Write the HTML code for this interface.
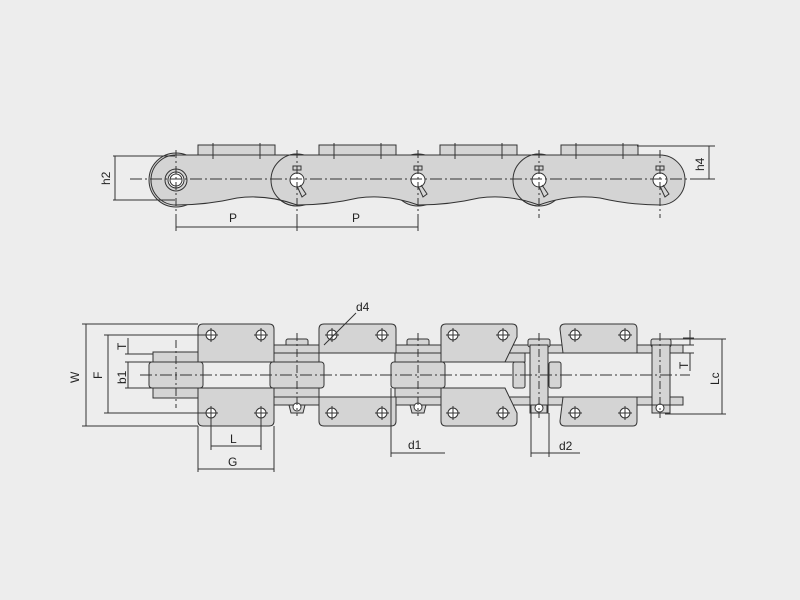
<!DOCTYPE html>
<html><head><meta charset="utf-8"><style>
html,body{margin:0;padding:0;background:#ededed;}
svg{display:block}
text{font-family:"Liberation Sans",sans-serif;font-size:12px;fill:#222}
</style></head><body>
<svg width="800" height="600" viewBox="0 0 800 600" xmlns="http://www.w3.org/2000/svg">
<rect width="800" height="600" fill="#ededed"/>
<g stroke="#333" stroke-width="1" fill="#d4d4d4">
<!-- TOP VIEW -->
<!-- rollers behind -->
<circle cx="297" cy="180" r="26"/><circle cx="418" cy="180" r="26"/><circle cx="539" cy="180" r="26"/>
<circle cx="176" cy="180" r="27"/>
<!-- attachments -->
<rect x="198" y="145" width="77" height="12"/><rect x="319" y="145" width="77" height="12"/>
<rect x="440" y="145" width="77" height="12"/><rect x="561" y="145" width="77" height="12"/>
<!-- plate -->
<path d="M176,155 L660,155 A25,25 0 0 1 660,205 Q630,205 600,198 Q570,194 539,205 Q509,194 479,198 Q449,205 418,205 Q388,194 358,198 Q328,205 297,205 Q267,194 237,198 Q207,205 176,205 A25,25 0 0 1 176,155 Z"/>
<path d="M297,154 A26,26 0 0 0 297,206 M539,154 A26,26 0 0 0 539,206" fill="none"/>
<circle cx="176" cy="180" r="11" fill="#d4d4d4"/><circle cx="176" cy="180" r="8" fill="#fff"/><circle cx="176" cy="180" r="6" fill="none"/>
<g fill="#fff">
<circle cx="297" cy="180" r="7"/><circle cx="418" cy="180" r="7"/><circle cx="539" cy="180" r="7"/><circle cx="660" cy="180" r="7"/>
</g>
<g fill="none">
<path d="M293,170 h8 v-4 h-8z M414,170 h8 v-4 h-8z M535,170 h8 v-4 h-8z M656,170 h8 v-4 h-8z"/>
<path d="M297,186 l5,11 l4,-3 l-6,-9 M418,186 l5,11 l4,-3 l-6,-9 M539,186 l5,11 l4,-3 l-6,-9 M660,186 l5,11 l4,-3 l-6,-9"/>
</g>
</g>
<g stroke="#333" stroke-width="1" fill="none">
<path d="M213,143v16 M260,143v16 M334,143v16 M381,143v16 M455,143v16 M502,143v16 M576,143v16 M623,143v16"/>
<path d="M130,179 H692" stroke-dasharray="12,3,2,3"/>
<path d="M176,150V230 M297,150V230 M418,150V230 M539,150V218 M660,150V218" stroke-dasharray="8,3,2,3"/>
<path d="M113,156H175 M113,200H175 M115,156V200"/>
<path d="M176,222 V231 M297,222V231 M418,222V231 M176,227H418"/>
<path d="M637,146H715 M690,179H715 M709,146V179"/>
</g>
<text x="229" y="222">P</text><text x="352" y="222">P</text>
<text transform="translate(110,185) rotate(-90)">h2</text>
<text transform="translate(704,171) rotate(-90)">h4</text>

<!-- BOTTOM VIEW -->
<g stroke="#333" stroke-width="1" fill="#d4d4d4">
<!-- roller link plates at 176 -->
<rect x="153" y="352" width="45" height="10"/><rect x="153" y="388" width="45" height="10"/>
<rect x="149" y="362" width="54" height="26" rx="3"/>
<!-- pin 297 -->
<rect x="286" y="339" width="22" height="8" rx="2"/>
<rect x="274" y="345" width="45" height="8"/><rect x="274" y="353" width="45" height="9"/>
<rect x="274" y="388" width="45" height="9"/><rect x="274" y="397" width="45" height="8"/>
<rect x="270" y="362" width="54" height="26" rx="3"/>
<path d="M289,405 h16 l-2,8 h-12z"/>
<!-- pin 418 -->
<rect x="407" y="339" width="22" height="8" rx="2"/>
<rect x="395" y="345" width="46" height="8"/><rect x="395" y="353" width="46" height="9"/>
<rect x="395" y="388" width="46" height="9"/><rect x="395" y="397" width="46" height="8"/>
<rect x="391" y="362" width="54" height="26" rx="3"/>
<path d="M410,405 h16 l-2,8 h-12z"/>
<!-- outer link plates -->
<rect x="319" y="345" width="77" height="8"/><rect x="319" y="397" width="77" height="8"/>
<!-- wings -->
<path d="M198,362 V329 q0,-5 5,-5 h66 q5,0 5,5 V362z"/>
<path d="M198,388 V421 q0,5 5,5 h66 q5,0 5,-5 V388z"/>
<path d="M319,353 V329 q0,-5 5,-5 h67 q5,0 5,5 V353z"/>
<path d="M319,397 V421 q0,5 5,5 h67 q5,0 5,-5 V397z"/>
<!-- right part -->
<rect x="505" y="345" width="58" height="8"/><rect x="505" y="397" width="58" height="8"/>
<rect x="505" y="353" width="20" height="9"/>
<rect x="513" y="362" width="12" height="26" rx="2"/><rect x="549" y="362" width="12" height="26" rx="2"/>
<path d="M441,362 V329 q0,-5 5,-5 h66 q5,0 5,5 v8 l-12,25z"/>
<path d="M441,388 V421 q0,5 5,5 h66 q5,0 5,-5 v-8 l-12,-25z"/>
<rect x="528" y="339" width="22" height="8" rx="2"/>
<rect x="530" y="345" width="18" height="68"/>
<path d="M531,405 h16 v8 h-16z"/>
<path d="M563,353 l-3,-24 q0,-5 5,-5 h68 q4,0 4,5 V353z"/>
<path d="M563,397 l-3,24 q0,5 5,5 h68 q4,0 4,-5 V397z"/>
<rect x="637" y="345" width="46" height="8"/><rect x="637" y="397" width="46" height="8"/>
<rect x="651" y="339" width="20" height="8" rx="2"/>
<rect x="652" y="345" width="18" height="60"/>
<path d="M652,405 h18 v8 h-18z"/>
</g>
<g stroke="#333" stroke-width="1" fill="#fff">
<circle cx="211" cy="335" r="5"/><circle cx="261" cy="335" r="5"/><circle cx="211" cy="413" r="5"/><circle cx="261" cy="413" r="5"/>
<circle cx="332" cy="335" r="5"/><circle cx="382" cy="335" r="5"/><circle cx="332" cy="413" r="5"/><circle cx="382" cy="413" r="5"/>
<circle cx="453" cy="335" r="5"/><circle cx="503" cy="335" r="5"/><circle cx="453" cy="413" r="5"/><circle cx="503" cy="413" r="5"/>
<circle cx="575" cy="335" r="5"/><circle cx="625" cy="335" r="5"/><circle cx="575" cy="413" r="5"/><circle cx="625" cy="413" r="5"/>
<circle cx="297" cy="407" r="4"/><circle cx="418" cy="407" r="4"/><circle cx="539" cy="408" r="4"/><circle cx="660" cy="408" r="4"/>
</g>
<g stroke="#333" stroke-width="1" fill="none">
<path d="M211,328v14 M204,335h14 M261,328v14 M254,335h14 M211,406v14 M204,413h14 M261,406v14 M254,413h14
M332,328v14 M325,335h14 M382,328v14 M375,335h14 M332,406v14 M325,413h14 M382,406v14 M375,413h14
M453,328v14 M446,335h14 M503,328v14 M496,335h14 M453,406v14 M446,413h14 M503,406v14 M496,413h14
M575,328v14 M568,335h14 M625,328v14 M618,335h14 M575,406v14 M568,413h14 M625,406v14 M618,413h14"/>
<path d="M140,375 H690" stroke-dasharray="12,3,2,3"/>
<path d="M176,340V408 M297,333V416 M418,333V416 M539,333V418 M660,333V418" stroke-dasharray="8,3,2,3"/>
<!-- left dims -->
<path d="M82,324H198 M82,426H198 M86,324V426"/>
<path d="M104,335H211 M104,413H211 M108,335V413"/>
<path d="M125,354H153 M125,362H153 M125,388H153 M128,338V354 M128,362V388"/>
<!-- L G -->
<path d="M211,413V450 M261,413V450 M211,446H261"/>
<path d="M198,426V472 M274,426V472 M198,469H274"/>
<!-- d1 d2 d4 -->
<path d="M391,388V457 M391,453H445"/>
<path d="M531,413V457 M549,413V457 M531,453H580"/>
<path d="M356,313L324,345"/>
<!-- right dims -->
<path d="M665,339H726 M665,414H726 M722,339V414"/>
<path d="M683,338H694 M683,345H694 M683,353H694 M690,330V345 M690,353V371"/>
</g>
<text transform="translate(79,383) rotate(-90)">W</text>
<text transform="translate(102,379) rotate(-90)">F</text>
<text transform="translate(126,350) rotate(-90)">T</text>
<text transform="translate(126,384) rotate(-90)">b1</text>
<text x="230" y="443">L</text>
<text x="228" y="466">G</text>
<text x="408" y="449">d1</text>
<text x="559" y="450">d2</text>
<text x="356" y="311">d4</text>
<text transform="translate(719,385) rotate(-90)">Lc</text>
<text transform="translate(688,369) rotate(-90)">T</text>
</svg>
</body></html>
